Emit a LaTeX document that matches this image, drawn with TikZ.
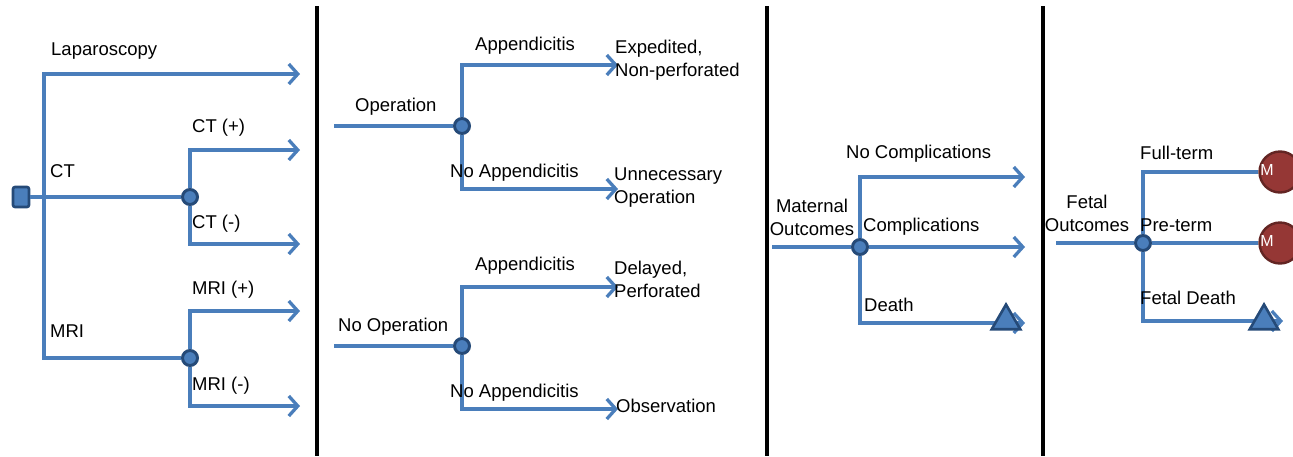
\documentclass[tikz,border=0pt]{standalone}
\usepackage{fontspec}
\setmainfont{Liberation Sans}
\usetikzlibrary{arrows.meta,shapes.geometric}
\definecolor{treeblue}{HTML}{4A7EBB}
\definecolor{chanceedge}{HTML}{254A78}
\definecolor{markovred}{HTML}{953735}
\definecolor{markovedge}{HTML}{632523}
\tikzset{
  branch/.style={draw=treeblue, line width=3.3pt},
  outcome/.style={branch, -{Straight Barb[length=9pt,width=20pt]}},
  chance/.style={circle, draw=chanceedge, fill=treeblue, line width=3pt, minimum size=15pt, inner sep=0pt},
  decision/.style={rectangle, rounded corners=2pt, draw=chanceedge, fill=treeblue, line width=2.6pt, minimum width=16pt, minimum height=20pt, inner sep=0pt},
  markov/.style={circle, draw=markovedge, fill=markovred, line width=2.4pt, minimum size=41pt, inner sep=0pt},
  deathnode/.style={regular polygon, regular polygon sides=3, draw=chanceedge, fill=treeblue, line width=2.6pt, minimum size=33pt, inner sep=0pt},
  lbl/.style={anchor=base west, inner sep=0pt, font=\fontsize{18.5}{23}\selectfont},
  divider/.style={line width=4pt, black}
}
\begin{document}
\begin{tikzpicture}[x=1pt,y=-1pt]
\useasboundingbox (0,0) rectangle (1293,456);
% panel dividers
\draw[divider] (317,6) -- (317,456);
\draw[divider] (767,6) -- (767,456);
\draw[divider] (1043,6) -- (1043,456);

% test strategy
\node[decision] (dec) at (21,197) {};
\coordinate (fork) at (44,197);
\node[chance] (ct) at (190,197) {};
\node[chance] (mri) at (190,358) {};
\coordinate (lap) at (300,74);
\coordinate (ctpos) at (300,150);
\coordinate (ctneg) at (300,244);
\coordinate (mripos) at (300,311);
\coordinate (mrineg) at (300,406);
\draw[branch] (dec) -- (ct);
\draw[outcome] (fork) |- (lap);
\draw[branch] (fork) |- (mri);
\draw[outcome] (ct) |- (ctpos);
\draw[outcome] (ct) |- (ctneg);
\draw[outcome] (mri) |- (mripos);
\draw[outcome] (mri) |- (mrineg);
\node[lbl] (laplbl) at (51,55) {Laparoscopy};
\node[lbl] (ctlbl) at (50,177) {CT};
\node[lbl] (mrilbl) at (50,337) {MRI};
\node[lbl] (ctposlbl) at (192,132) {CT (+)};
\node[lbl] (ctneglbl) at (192,228) {CT (-)};
\node[lbl] (mriposlbl) at (192,294) {MRI (+)};
\node[lbl] (mrineglbl) at (192,390) {MRI (-)};

% operation decision
\coordinate (opin) at (334,126);
\node[chance] (op) at (462,126) {};
\coordinate (expd) at (618,65);
\coordinate (unnec) at (618,189);
\draw[branch] (opin) -- (op);
\draw[outcome] (op) |- (expd);
\draw[outcome] (op) |- (unnec);
\coordinate (noopin) at (334,346);
\node[chance] (noop) at (462,346) {};
\coordinate (delay) at (618,287);
\coordinate (obs) at (618,409);
\draw[branch] (noopin) -- (noop);
\draw[outcome] (noop) |- (delay);
\draw[outcome] (noop) |- (obs);
\node[lbl] (oplbl) at (355,111) {Operation};
\node[lbl] (opapp) at (475,50) {Appendicitis};
\node[lbl] (opnoapp) at (450,177) {No Appendicitis};
\node[lbl, align=left] (expdlbl) at (615,76) {Expedited,\\Non-perforated};
\node[lbl, align=left] (unneclbl) at (614,203) {Unnecessary\\Operation};
\node[lbl] (nooplbl) at (338,331) {No Operation};
\node[lbl] (noopapp) at (475,270) {Appendicitis};
\node[lbl] (noopnoapp) at (450,397) {No Appendicitis};
\node[lbl, align=left] (delaylbl) at (614,297) {Delayed,\\Perforated};
\node[lbl] (obslbl) at (616,412) {Observation};

% maternal outcomes
\coordinate (matin) at (772,247);
\node[chance] (mat) at (860,247) {};
\coordinate (nocomp) at (1025,177);
\coordinate (comp) at (1025,247);
\coordinate (mdeath) at (1025,323);
\draw[branch] (matin) -- (mat);
\draw[outcome] (mat) |- (nocomp);
\draw[outcome] (mat) -- (comp);
\draw[outcome] (mat) |- (mdeath);
\node[deathnode] (mdeathtri) at (1006,321) {};
\node[lbl, anchor=base, align=center] (matlbl) at (812,235) {Maternal\\Outcomes};
\node[lbl] (nocomplbl) at (846,158) {No Complications};
\node[lbl] (complbl) at (863,231) {Complications};
\node[lbl] (mdeathlbl) at (864,311) {Death};

% fetal outcomes
\coordinate (fetin) at (1056,243);
\node[chance] (fet) at (1143,243) {};
\node[markov] (full) at (1280,172) {};
\node[markov] (pre) at (1280,243) {};
\coordinate (fdeath) at (1283,321);
\draw[branch] (fetin) -- (fet);
\draw[branch] (fet) |- (full);
\draw[branch] (fet) -- (pre);
\draw[outcome] (fet) |- (fdeath);
\node[deathnode] (fdeathtri) at (1264,321) {};
\node[inner sep=0pt, text=white, font=\fontsize{16}{18}\selectfont] (fullm) at (1267,170) {M};
\node[inner sep=0pt, text=white, font=\fontsize{16}{18}\selectfont] (prem) at (1267,241) {M};
\node[lbl, anchor=base, align=center] (fetlbl) at (1087,231) {Fetal\\Outcomes};
\node[lbl] (fulllbl) at (1140,159) {Full-term};
\node[lbl] (prelbl) at (1140,231) {Pre-term};
\node[lbl] (fdeathlbl) at (1140,304) {Fetal Death};
\end{tikzpicture}
\end{document}
